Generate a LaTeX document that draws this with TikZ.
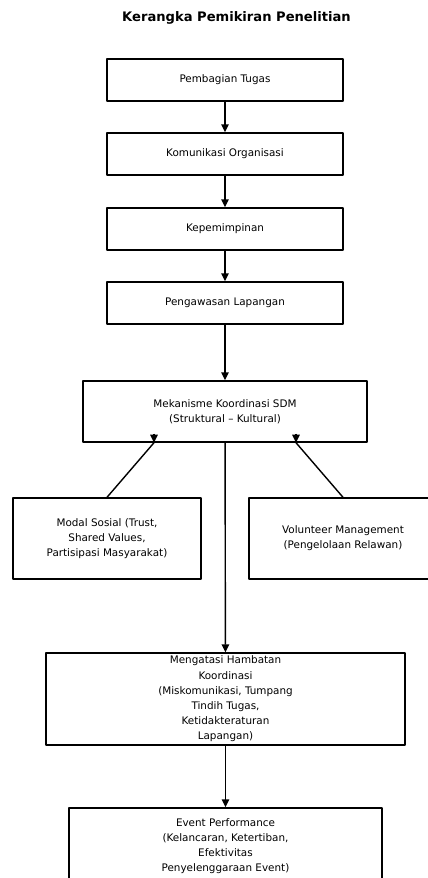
\documentclass[tikz,border=0pt]{standalone}
\usepackage{fontspec}
\setmainfont{DejaVu Sans}
\usetikzlibrary{arrows.meta}
\begin{document}
\begin{tikzpicture}[x=1pt,y=-1pt,line join=round,>={Triangle[length=8pt,width=7.5pt]},line width=1.4pt]
	\tikzset{every node/.style={font=\fontsize{10.4}{15.2}\selectfont,align=center},
		box/.style={draw,minimum width=#1,inner sep=0pt},
		box/.default=236pt}
	\clip (0,0) rectangle (428,878);
	\fill[white] (0,0) rectangle (428,878);
	\node (judul) at (236.5,18) {\fontsize{13.1}{15}\selectfont\bfseries Kerangka Pemikiran Penelitian};
	\node[box,minimum height=42pt] (tugas) at (225,80) {Pembagian Tugas};
	\node[box,minimum height=42pt] (komunikasi) at (225,154) {Komunikasi Organisasi};
	\node[box,minimum height=42pt] (pimpin) at (225,229) {Kepemimpinan};
	\node[box,minimum height=42pt] (awas) at (225,303) {Pengawasan Lapangan};
	\node[box=284pt,minimum height=61pt] (mekanisme) at (225,411.5) {Mekanisme Koordinasi SDM\\(Struktural – Kultural)};
	\node[box=188pt,minimum height=81pt] (modal) at (107,538.5) {Modal Sosial (Trust,\\Shared Values,\\Partisipasi Masyarakat)};
	\node[box=188pt,minimum height=81pt] (relawan) at (343,538.5) {Volunteer Management\\(Pengelolaan Relawan)};
	\node[box=359pt,minimum height=92pt] (hambatan) at (225.5,699) {Mengatasi Hambatan\\Koordinasi\\(Miskomunikasi, Tumpang\\Tindih Tugas,\\Ketidakteraturan\\Lapangan)};
	\node[box=313pt,minimum height=76pt] (event) at (225.5,846) {Event Performance\\(Kelancaran, Ketertiban,\\Efektivitas\\Penyelenggaraan Event)};
	% alur utama
	\foreach \a/\b in {tugas/komunikasi,komunikasi/pimpin,pimpin/awas,awas/mekanisme,mekanisme/hambatan,hambatan/event}
	\draw[->] (\a) -- (\b);
	% dukungan ke mekanisme
	\coordinate (mL) at ([xshift=-71pt]mekanisme.south);
	\coordinate (mR) at ([xshift=71pt]mekanisme.south);
	\draw (modal.north) -- (mL);
	\draw (relawan.north) -- (mR);
	\draw[->] ([yshift=9pt]mL) -- (mL);
	\draw[->] ([yshift=9pt]mR) -- (mR);
\end{tikzpicture}
\end{document}
